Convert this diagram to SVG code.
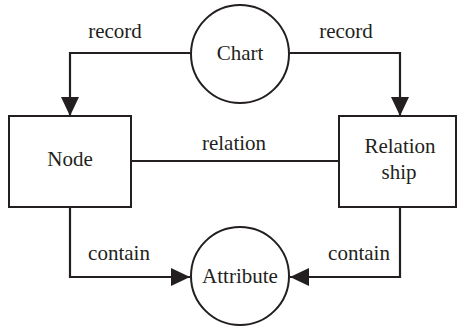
<svg xmlns="http://www.w3.org/2000/svg" width="457" height="328" viewBox="0 0 457 328">
<style>
.shape{fill:#fff;stroke:#231f20;stroke-width:2}
.edge{fill:none;stroke:#231f20;stroke-width:2.2}
text{font-family:"Liberation Serif","Times New Roman",serif;font-size:21px;fill:#231f20;text-anchor:middle}
</style>
<defs>
<marker id="arr" markerUnits="userSpaceOnUse" markerWidth="20" markerHeight="20" refX="19" refY="9" orient="auto">
<path d="M0,0 L19,9 L0,18 z" fill="#231f20"/>
</marker>
</defs>
<rect width="457" height="328" fill="#fff"/>
<g id="connectors">
<path class="edge" d="M190,53 H70 V116" marker-end="url(#arr)"/>
<path class="edge" d="M290,53 H400 V116" marker-end="url(#arr)"/>
<path class="edge" d="M131,161 H339"/>
<path class="edge" d="M70,207 V277 H190" marker-end="url(#arr)"/>
<path class="edge" d="M400,207 V277 H290" marker-end="url(#arr)"/>
<text x="115" y="38">record</text>
<text x="346" y="38">record</text>
<text x="234" y="150">relation</text>
<text x="119" y="260">contain</text>
<text x="359" y="260">contain</text>
</g>
<g id="chart">
<circle class="shape" cx="240" cy="54" r="49"/>
<text x="240" y="60">Chart</text>
</g>
<g id="node">
<rect class="shape" x="9" y="116" width="122" height="91"/>
<text x="70" y="166">Node</text>
</g>
<g id="relationship">
<rect class="shape" x="339" y="116" width="117" height="91"/>
<text x="400" y="153">Relation</text>
<text x="399" y="179">ship</text>
</g>
<g id="attribute">
<circle class="shape" cx="240" cy="276" r="49"/>
<text x="240" y="283">Attribute</text>
</g>
</svg>
